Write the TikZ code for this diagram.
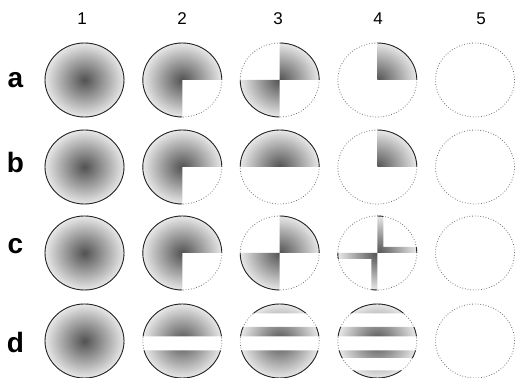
\documentclass[tikz,border=0pt]{standalone}
\usepackage{fontspec}
\setmainfont{Liberation Sans}
\tikzset{
  shd/.style={inner color=black!68, outer color=black!9},
  solidl/.style={draw=black!85, line width=0.9pt},
  dotl/.style={draw=black!55, line width=0.8pt, dash pattern=on 0.8pt off 1.9pt},
  collab/.style={font=\fontsize{17}{17}\selectfont, inner sep=0pt},
  rowlab/.style={font=\fontsize{28}{28}\selectfont\bfseries, inner sep=0pt},
}
\newcommand\cellR[3]{%
  \begin{scope}[shift={(#1,#2)}]
    \draw[dotl] (0,0) ellipse [x radius=39.5, y radius=37];
    \begin{scope}
      \clip #3;
      \shade[shd] (0,0) ellipse [x radius=39.5, y radius=37];
      \draw[solidl] (0,0) ellipse [x radius=39.5, y radius=37];
    \end{scope}
  \end{scope}}
\newcommand\cellE[2]{%
  \draw[dotl] (#1,#2) ellipse [x radius=39.5, y radius=37];}
\begin{document}
\begin{tikzpicture}[x=1pt, y=1pt]
\useasboundingbox (0,0) rectangle (515,378);
% column labels
\node[collab] (c1) at (82,359) {1};
\node[collab] (c2) at (182,359) {2};
\node[collab] (c3) at (278,359) {3};
\node[collab] (c4) at (378,359) {4};
\node[collab] (c5) at (481,359) {5};
% row labels
\node[rowlab] (ra) at (15.5,298) {a};
\node[rowlab] (rb) at (15.5,216) {b};
\node[rowlab] (rc) at (15.5,132) {c};
\node[rowlab] (rd) at (15.5,36) {d};
% row a
\cellR{84.5}{298}{(-45,-45) rectangle (45,45)}
\cellR{182.3}{298}{(-45,0) rectangle (45,45) (-45,-45) rectangle (0,0)}
\cellR{279.7}{298}{(0,0) rectangle (45,45) (-45,-45) rectangle (0,0)}
\cellR{377.3}{298}{(0,0) rectangle (45,45)}
\cellE{475}{298}
% row b
\cellR{84.5}{211}{(-45,-45) rectangle (45,45)}
\cellR{182.3}{211}{(-45,0) rectangle (45,45) (-45,-45) rectangle (0,0)}
\cellR{279.7}{211}{(-45,0) rectangle (45,45)}
\cellR{377.3}{211}{(0,0) rectangle (45,45)}
\cellE{475}{211}
% row c
\cellR{84.5}{125}{(-45,-45) rectangle (45,45)}
\cellR{182.3}{125}{(-45,0) rectangle (45,45) (-45,-45) rectangle (0,0)}
\cellR{279.7}{125}{(0,0) rectangle (45,45) (-45,-45) rectangle (0,0)}
\cellR{377.3}{125}{(0,0) rectangle (6,45) (0,0) rectangle (45,6) (-6,-45) rectangle (0,0) (-45,-6) rectangle (0,0)}
\cellE{475}{125}
% row d
\cellR{84.5}{37}{(-45,-45) rectangle (45,45)}
\cellR{182.3}{37}{(-45,4.5) rectangle (45,45) (-45,-45) rectangle (45,-9.5)}
\cellR{279.7}{37}{(-45,27.5) rectangle (45,45) (-45,4.5) rectangle (45,14) (-45,-45) rectangle (45,-9.5)}
\cellR{377.3}{37}{(-45,27.5) rectangle (45,45) (-45,4.5) rectangle (45,14) (-45,-17) rectangle (45,-9.5) (-45,-45) rectangle (45,-29.5)}
\cellE{475}{37}
\end{tikzpicture}
\end{document}
